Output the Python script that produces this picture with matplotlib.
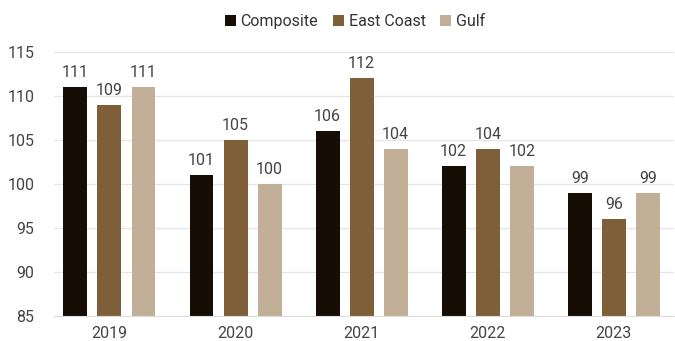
import matplotlib.pyplot as plt
import numpy as np

plt.rcParams['font.family'] = ['Roboto', 'DejaVu Sans']

years = ['2019', '2020', '2021', '2022', '2023']
composite = [111, 101, 106, 102, 99]
east_coast = [109, 105, 112, 104, 96]
gulf = [111, 100, 104, 102, 99]

series = [('Composite', composite, '#160e04'),
          ('East Coast', east_coast, '#7f5f3a'),
          ('Gulf', gulf, '#c2af98')]

fig = plt.figure(figsize=(6.75, 3.41), dpi=100)
ax = fig.add_axes([0.08, 0.0733, 0.919, 0.7742])

x = np.arange(len(years))
width = 0.19
step = 0.27
for i, (name, vals, color) in enumerate(series):
    pos = x + (i - 1) * step
    ax.bar(pos, [v - 85 for v in vals], width, bottom=85, color=color, label=name, zorder=2)
    for p, v in zip(pos, vals):
        ax.annotate(str(v), (p, v), xytext=(0, 5), textcoords='offset points',
                    ha='center', va='bottom', fontsize=11.5, color='#444444')

ax.set_ylim(85, 115)
ax.set_xlim(-0.44, 4.48)
ax.set_yticks(range(85, 116, 5))
ax.set_xticks(x)
ax.set_xticklabels(years)
ax.tick_params(axis='both', length=0, labelsize=11.5, colors='#444444')
ax.tick_params(axis='y', pad=14)
ax.tick_params(axis='x', pad=7)
ax.grid(axis='y', color='#e6e6e6', linewidth=1, zorder=0)
for s in ['top', 'right', 'left']:
    ax.spines[s].set_visible(False)
ax.spines['bottom'].set_color('#dddddd')

ax.legend(loc='center', bbox_to_anchor=(0.485, 1.115), ncol=3, frameon=False,
          fontsize=11.5, handlelength=0.7, handleheight=0.7, handletextpad=0.3,
          columnspacing=0.9, labelcolor='#333333')

fig.savefig('out.png')
